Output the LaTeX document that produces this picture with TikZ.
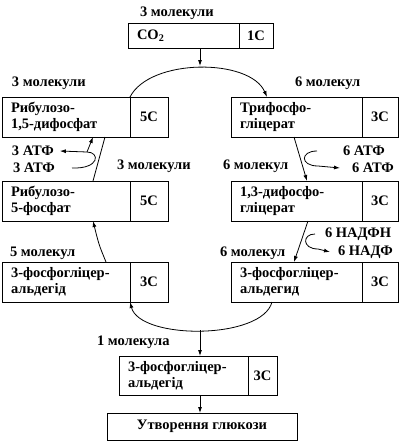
\documentclass[tikz,border=0pt]{standalone}
\usepackage{fontspec}
\setmainfont{Liberation Serif}
\usetikzlibrary{positioning,arrows.meta}

\begin{document}
\begin{tikzpicture}
[x=1pt,y=-1pt,
 every node/.style={inner sep=0pt,outer sep=0pt,font=\bfseries\fontsize{14.5}{16}\selectfont},
 sub/.style={draw,line width=0.8pt,anchor=north west,align=left,inner xsep=9pt,minimum height=40pt,text width=110pt},
 carb/.style={draw,line width=0.8pt,minimum height=40pt,minimum width=38pt},
 lbl/.style={anchor=west},
 >={Latex[length=6pt,width=4pt]},
 line width=0.8pt]
\useasboundingbox (0,0) rectangle (400,442);
\node[sub,text width=93pt,minimum height=25pt] (co2)  at (128,23)  {CO\textsubscript{2}};
\node[carb,minimum width=34pt,minimum height=25pt] (co2C) [right=0pt of co2] {1С};
\node[sub]                  (rbp)  at (2,97)    {Рибулозо-\\1,5-дифосфат};
\node[carb]                 (rbpC) [right=0pt of rbp]  {5С};
\node[sub,text width=113pt] (trp)  at (231,97)  {Трифосфо-\\гліцерат};
\node[carb,minimum width=36pt] (trpC) [right=0pt of trp] {3С};
\node[sub]                  (r5p)  at (2,181)   {Рибулозо-\\5-фосфат};
\node[carb]                 (r5pC) [right=0pt of r5p]  {5С};
\node[sub,text width=113pt] (dpg)  at (231,181) {1,3-дифосфо-\\гліцерат};
\node[carb,minimum width=36pt] (dpgC) [right=0pt of dpg] {3С};
\node[sub]                  (gapL) at (2,262)   {3-фосфогліцер-\\альдегід};
\node[carb]                 (gapLC) [right=0pt of gapL] {3С};
\node[sub,text width=113pt] (gapR) at (231,262) {3-фосфогліцер-\\альдегид};
\node[carb,minimum width=36pt] (gapRC) [right=0pt of gapR] {3С};
\node[sub,text width=111pt,minimum height=39pt] (gapB) at (119,356) {3-фосфогліцер-\\альдегід};
\node[carb,minimum width=29pt,minimum height=39pt] (gapBC) [right=0pt of gapB] {3С};
\node[draw,anchor=north west,minimum width=190pt,minimum height=27pt] (glc) at (107,413) {Утворення глюкози};
\node[lbl] (nCO2)  at (140,13)  {3 молекули};
\node[lbl] (nRBP)  at (12,83)   {3 молекули};
\node[lbl] (nTRP)  at (295,83)  {6 молекул};
\node[lbl] (atpL1) at (12,151)  {3 АТФ};
\node[lbl] (atpL2) at (13,168)  {3 АТФ};
\node[lbl] (nR5P)  at (117,166) {3 молекули};
\node[lbl] (atpR1) at (343,151) {6 АТФ};
\node[lbl] (atpR2) at (352,168) {6 АТФ};
\node[lbl] (nDPG)  at (223,166) {6 молекул};
\node[lbl] (nGAPL) at (10,253)  {5 молекул};
\node[lbl] (nadph) at (325,234) {6 НАДФН};
\node[lbl] (nadp)  at (338,252) {6 НАДФ};
\node[lbl] (nGAPR) at (220,253) {6 молекул};
\node[lbl] (nGAPB) at (97,342)  {1 молекула};
\coordinate (top) at (200,66);
\coordinate (jL)  at (87,152);
\coordinate (bot) at (200,330);
% cycle
\draw[->] ([xshift=72pt]co2.south west) -- (top);
\draw[->] (rbpC.north west) .. controls (150,58) and (250,58) .. ([xshift=36pt]trp.north west);
\draw[->] ([xshift=63pt]trp.south west) -- ([xshift=76pt]dpg.north west);
\draw[->] ([xshift=77pt]dpg.south west) -- ([xshift=63pt]gapR.north west);
\draw[->] ([xshift=41pt]gapR.south west) .. controls (262,340) and (140,340) .. (gapLC.south west);
\draw[->] ([xshift=104pt]gapL.north west) .. controls (99,245) .. ([xshift=91pt]r5p.south west);
\draw     ([xshift=91pt]r5p.north west) -- ([xshift=103pt]rbp.south west);
% side reactions
\draw[->] (72,168) .. controls (100,169) and (100,152) .. (jL) -- ([xshift=6pt]atpL1.east);
\draw[->] (jL) -- ([xshift=91pt]rbp.south west);
\draw[->] ([xshift=-26pt]atpR1.west) .. controls (300,151) and (300,166) .. (318,166) -- ([xshift=-12pt]atpR2.west);
\draw[->] ([xshift=-10pt]nadph.west) .. controls (302,234) and (302,249) .. (318,249) -- ([xshift=-8pt]nadp.west);
% output
\draw[->] (bot) -- ([xshift=81pt]gapB.north west);
\draw[->] ([xshift=81pt]gapB.south west) -- ([xshift=93pt]glc.north west);
\end{tikzpicture}
\end{document}
